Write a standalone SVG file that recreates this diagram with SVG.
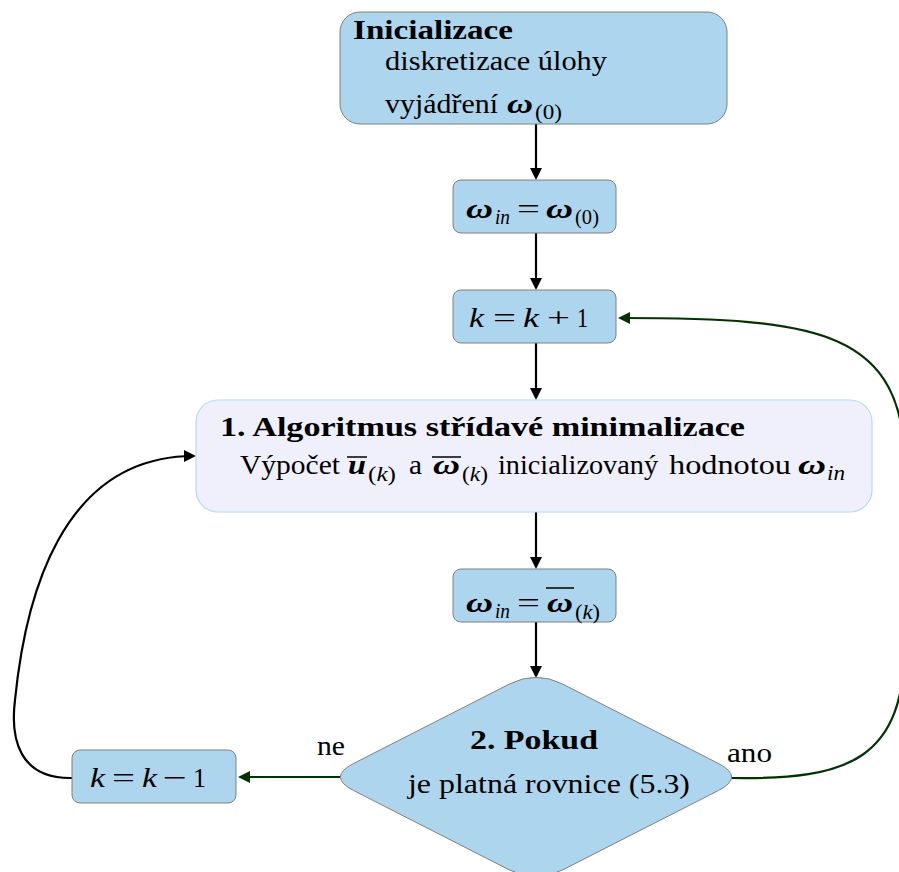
<svg xmlns="http://www.w3.org/2000/svg" width="899" height="872" viewBox="0 0 899 872">
<style>
.bg{fill:#ffffff}
.n{fill:#add5ed;stroke:#808080;stroke-width:1}
.big{fill:#eff0fc;stroke:#b6d9f6;stroke-width:1.2}
text{font-family:'Liberation Serif','Times New Roman','DejaVu Serif',serif;font-size:28px;fill:#000}
.b{font-weight:bold}
.i{font-style:italic}
.w{font-weight:bold;font-style:italic}
.s{font-size:20px}
.bar{stroke:#000;stroke-width:1.5}
.c{fill:none;stroke:#000;stroke-width:2.2}
.g{fill:none;stroke:#003300;stroke-width:2.2}
</style>
<defs>
<marker id="ab" viewBox="0 0 12 12" markerWidth="12" markerHeight="12" refX="10" refY="6" orient="auto" markerUnits="userSpaceOnUse"><path d="M0,0 L12,6 L0,12 Z" fill="#000"/></marker>
<marker id="ag" viewBox="0 0 12 12" markerWidth="12" markerHeight="12" refX="10" refY="6" orient="auto" markerUnits="userSpaceOnUse"><path d="M0,0 L12,6 L0,12 Z" fill="#003300"/></marker>
</defs>
<rect class="bg" x="0" y="0" width="899" height="872"/>

<g id="connectors">
<path class="c" d="M536,124 L536,178" marker-end="url(#ab)"/>
<path class="c" d="M536,233 L536,288" marker-end="url(#ab)"/>
<path class="c" d="M536,343 L536,398" marker-end="url(#ab)"/>
<path class="c" d="M536,512 L536,567" marker-end="url(#ab)"/>
<path class="c" d="M536,622 L536,676" marker-end="url(#ab)"/>
<path class="g" d="M341,777 L240,777" marker-end="url(#ag)"/>
<path class="c" d="M72,778 C20,779 10,740 15,700 C25,600 60,456 194,456" marker-end="url(#ab)"/>
<path class="g" d="M731,778 C850,780 905,760 905,640 L905,470 C905,330 820,318 620,318" marker-end="url(#ag)"/>
</g>

<g id="init">
<rect class="n" x="340" y="12" width="387" height="112" rx="20"/>
<text class="b" x="353" y="39" textLength="160" lengthAdjust="spacingAndGlyphs">Inicializace</text>
<text x="385" y="70" textLength="222" lengthAdjust="spacingAndGlyphs">diskretizace úlohy</text>
<text x="385" y="113" textLength="113" lengthAdjust="spacingAndGlyphs">vyjádření</text>
<text class="w" x="507" y="113" textLength="26" lengthAdjust="spacingAndGlyphs">ω</text>
<text class="s" x="535" y="119" textLength="27" lengthAdjust="spacingAndGlyphs">(0)</text>
</g>

<g id="omega0">
<rect class="n" x="453" y="180" width="163" height="53" rx="8"/>
<text class="w" x="466" y="218" textLength="27" lengthAdjust="spacingAndGlyphs">ω</text>
<text class="s i" x="495" y="224" textLength="15" lengthAdjust="spacingAndGlyphs">in</text>
<text x="517" y="218" textLength="23" lengthAdjust="spacingAndGlyphs">=</text>
<text class="w" x="546" y="218" textLength="27" lengthAdjust="spacingAndGlyphs">ω</text>
<text class="s" x="575" y="224" textLength="24" lengthAdjust="spacingAndGlyphs">(0)</text>
</g>

<g id="kplus">
<rect class="n" x="453" y="290" width="163" height="53" rx="8"/>
<text class="i" x="469" y="327" textLength="15" lengthAdjust="spacingAndGlyphs">k</text>
<text x="493" y="327" textLength="23" lengthAdjust="spacingAndGlyphs">=</text>
<text class="i" x="523" y="327" textLength="16" lengthAdjust="spacingAndGlyphs">k</text>
<text x="547" y="327" textLength="23" lengthAdjust="spacingAndGlyphs">+</text>
<text x="577" y="327" textLength="11" lengthAdjust="spacingAndGlyphs">1</text>
</g>

<g id="alg">
<rect class="big" x="196" y="400" width="676" height="112" rx="22"/>
<text class="b" x="220" y="436" textLength="525" lengthAdjust="spacingAndGlyphs">1. Algoritmus střídavé minimalizace</text>
<text x="240" y="474" textLength="100" lengthAdjust="spacingAndGlyphs">Výpočet</text>
<text class="w" x="348" y="474" textLength="18" lengthAdjust="spacingAndGlyphs">u</text>
<line class="bar" x1="347" y1="457" x2="367" y2="457"/>
<text class="s" x="368" y="481" textLength="28" lengthAdjust="spacingAndGlyphs">(<tspan class="i">k</tspan>)</text>
<text x="409" y="474" textLength="13" lengthAdjust="spacingAndGlyphs">a</text>
<text class="w" x="433" y="474" textLength="27" lengthAdjust="spacingAndGlyphs">ω</text>
<line class="bar" x1="432" y1="457" x2="461" y2="457"/>
<text class="s" x="462" y="481" textLength="26" lengthAdjust="spacingAndGlyphs">(<tspan class="i">k</tspan>)</text>
<text x="498" y="474" textLength="160" lengthAdjust="spacingAndGlyphs">inicializovaný</text>
<text x="669" y="474" textLength="122" lengthAdjust="spacingAndGlyphs">hodnotou</text>
<text class="w" x="798" y="474" textLength="28" lengthAdjust="spacingAndGlyphs">ω</text>
<text class="s i" x="827" y="480" textLength="18" lengthAdjust="spacingAndGlyphs">in</text>
</g>

<g id="omegak">
<rect class="n" x="453" y="569" width="163" height="53" rx="8"/>
<text class="w" x="466" y="612" textLength="27" lengthAdjust="spacingAndGlyphs">ω</text>
<text class="s i" x="495" y="618" textLength="15" lengthAdjust="spacingAndGlyphs">in</text>
<text x="517" y="612" textLength="23" lengthAdjust="spacingAndGlyphs">=</text>
<text class="w" x="547" y="612" textLength="26" lengthAdjust="spacingAndGlyphs">ω</text>
<line class="bar" x1="546" y1="588" x2="574" y2="588"/>
<text class="s" x="575" y="619" textLength="25" lengthAdjust="spacingAndGlyphs">(<tspan class="i">k</tspan>)</text>
</g>

<g id="decision">
<path class="n" d="M562.7,684.1 L718.3,763.4 Q745,777 718.3,790.6 L562.7,869.9 Q536,883.5 509.3,869.9 L353.7,790.6 Q327,777 353.7,763.4 L509.3,684.1 Q536,670.5 562.7,684.1 Z"/>
<text class="b" x="470" y="749" textLength="128" lengthAdjust="spacingAndGlyphs">2. Pokud</text>
<text x="408" y="793" textLength="282" lengthAdjust="spacingAndGlyphs">je platná rovnice (5.3)</text>
</g>

<g id="kminus">
<rect class="n" x="72" y="750" width="164" height="53" rx="8"/>
<text class="i" x="90" y="787" textLength="15" lengthAdjust="spacingAndGlyphs">k</text>
<text x="112" y="787" textLength="23" lengthAdjust="spacingAndGlyphs">=</text>
<text class="i" x="142" y="787" textLength="15" lengthAdjust="spacingAndGlyphs">k</text>
<text x="163" y="787" textLength="24" lengthAdjust="spacingAndGlyphs">−</text>
<text x="193" y="787" textLength="13" lengthAdjust="spacingAndGlyphs">1</text>
</g>

<g id="labels">
<text x="317" y="755" textLength="28" lengthAdjust="spacingAndGlyphs">ne</text>
<text x="727" y="762" textLength="45" lengthAdjust="spacingAndGlyphs">ano</text>
</g>
</svg>
